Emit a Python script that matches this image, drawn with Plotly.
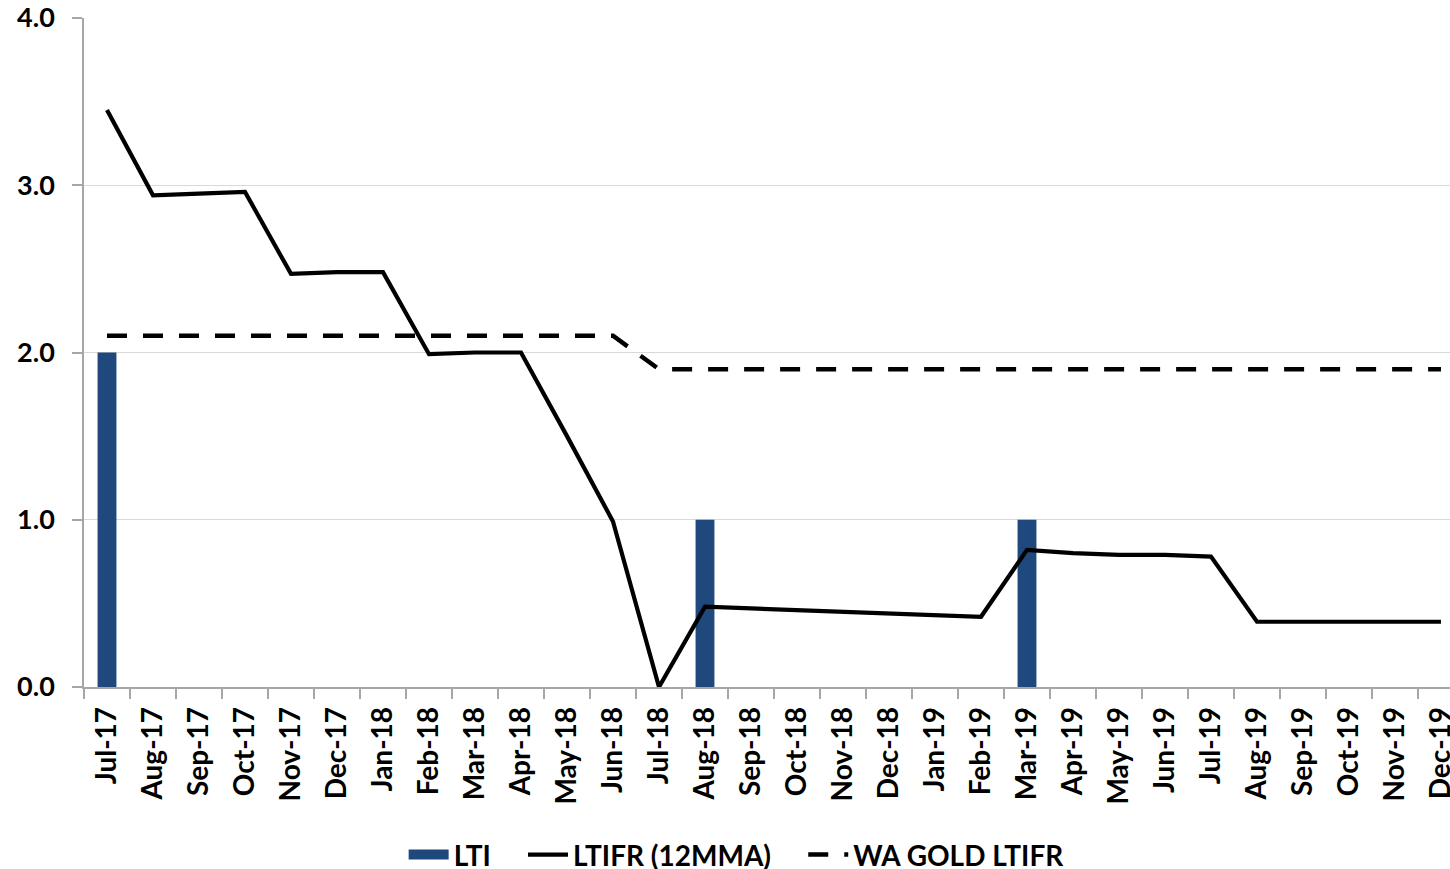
import plotly.graph_objects as go

months = ["Jul-17", "Aug-17", "Sep-17", "Oct-17", "Nov-17", "Dec-17",
          "Jan-18", "Feb-18", "Mar-18", "Apr-18", "May-18", "Jun-18",
          "Jul-18", "Aug-18", "Sep-18", "Oct-18", "Nov-18", "Dec-18",
          "Jan-19", "Feb-19", "Mar-19", "Apr-19", "May-19", "Jun-19",
          "Jul-19", "Aug-19", "Sep-19", "Oct-19", "Nov-19", "Dec-19"]

lti = [2, None, None, None, None, None,
       None, None, None, None, None, None,
       None, 1, None, None, None, None,
       None, None, 1, None, None, None,
       None, None, None, None, None, None]

ltifr_12mma = [3.45, 2.94, 2.95, 2.96, 2.47, 2.48,
               2.48, 1.99, 2.00, 2.00, 1.50, 0.99,
               0.00, 0.48, 0.47, 0.46, 0.45, 0.44,
               0.43, 0.42, 0.82, 0.80, 0.79, 0.79,
               0.78, 0.39, 0.39, 0.39, 0.39, 0.39]

wa_gold_ltifr = [2.1, 2.1, 2.1, 2.1, 2.1, 2.1,
                 2.1, 2.1, 2.1, 2.1, 2.1, 2.1,
                 1.9, 1.9, 1.9, 1.9, 1.9, 1.9,
                 1.9, 1.9, 1.9, 1.9, 1.9, 1.9,
                 1.9, 1.9, 1.9, 1.9, 1.9, 1.9]

y_ticks = [0, 1, 2, 3, 4]
y_tick_text = ["0.0", "1.0", "2.0", "3.0", "4.0"]

FONT = "Lato"
AXIS_GREY = "#A6A6A6"
BAR_BLUE = "#1F497D"
PAD = "\u00a0" * 4  # extra room after each legend entry

fig = go.Figure()
fig.add_trace(go.Bar(
    x=months, y=lti, name="LTI",
    marker=dict(color=BAR_BLUE, line=dict(width=0)),
    width=0.41, showlegend=False, legendgroup="lti",
))
# legend key for the bars: a wide filled block instead of the small square
fig.add_trace(go.Scatter(
    x=[None], y=[None], name="LTI" + PAD, mode="lines",
    line=dict(color=BAR_BLUE, width=10), legendgroup="lti",
))
fig.add_trace(go.Scatter(
    x=months, y=ltifr_12mma, name="LTIFR (12MMA)" + PAD, mode="lines",
    line=dict(color="black", width=4.2),
))
fig.add_trace(go.Scatter(
    x=months, y=wa_gold_ltifr, name="WA GOLD LTIFR", mode="lines",
    line=dict(color="black", width=4.5, dash="20px,16px"),
))

fig.update_layout(
    width=1450, height=869,
    margin=dict(l=84, r=0, t=18, b=182, autoexpand=False),
    plot_bgcolor="white", paper_bgcolor="white",
    font=dict(family=FONT, color="black", size=28),
    showlegend=True,
    legend=dict(
        orientation="h", x=0.234, xanchor="left", y=-0.251, yanchor="middle",
        font=dict(family=FONT, size=28, color="black", weight="bold"),
        itemwidth=40, tracegroupgap=0, groupclick="toggleitem",
    ),
    bargap=0.59,
)

fig.update_xaxes(
    type="category",
    range=[-0.5, 29.196],
    automargin=False,
    showline=True, linecolor=AXIS_GREY, linewidth=1.5,
    ticks="outside", ticklen=10, tickcolor=AXIS_GREY, tickwidth=1.5,
    tickson="boundaries",
    tickangle=-90,
    tickfont=dict(family=FONT, size=28, color="black", weight="bold"),
    ticklabelstandoff=7,
    showgrid=False, zeroline=False,
)

fig.update_yaxes(
    range=[0, 4],
    automargin=False,
    tickvals=y_ticks, ticktext=y_tick_text,
    showline=True, linecolor=AXIS_GREY, linewidth=1.5,
    ticks="outside", ticklen=10, tickcolor=AXIS_GREY, tickwidth=1.5,
    tickfont=dict(family=FONT, size=27, color="black", weight="bold"),
    ticklabelstandoff=12,
    showgrid=True, gridcolor="#D9D9D9", gridwidth=1.2,
    zeroline=False,
)

fig.write_html("out.html")
